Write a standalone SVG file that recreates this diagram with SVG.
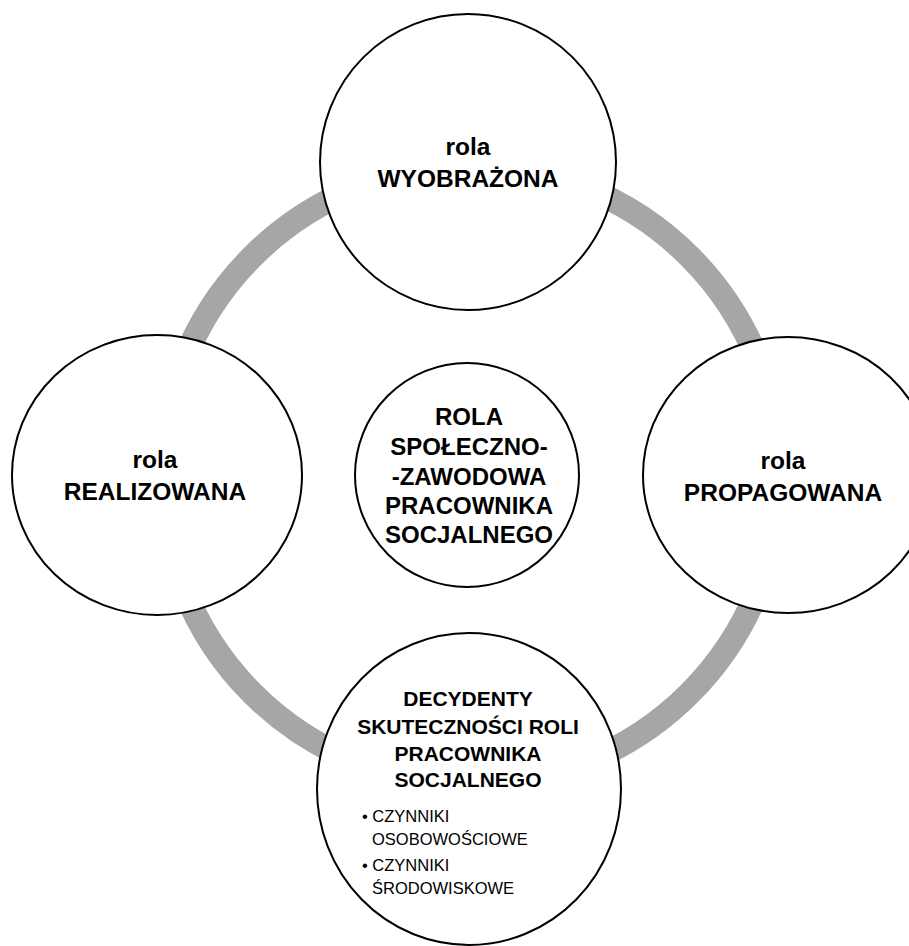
<svg xmlns="http://www.w3.org/2000/svg" width="909" height="946" viewBox="0 0 909 946">
<style>
.node{fill:#fff;stroke:#000;stroke-width:2}
.t{font-family:"Liberation Sans",Arial,sans-serif;font-weight:bold;fill:#000;text-anchor:middle}
.o{font-size:24.5px}
.c{font-size:24px}
.d{font-size:21px}
.b{font-family:"Liberation Sans",Arial,sans-serif;fill:#000;font-size:16.5px}
</style>
<rect width="909" height="946" fill="#fff"/>
<g id="connectors">
<circle cx="471" cy="475" r="309" fill="none" stroke="#A6A6A6" stroke-width="24"/>
</g>
<g id="node-top">
<circle class="node" cx="468" cy="162" r="148"/>
<text class="t o" x="468" y="155">rola</text>
<text class="t o" x="468" y="187">WYOBRAŻONA</text>
</g>
<g id="node-left">
<ellipse class="node" cx="157" cy="475" rx="145" ry="140"/>
<text class="t o" x="155" y="468">rola</text>
<text class="t o" x="155" y="500">REALIZOWANA</text>
</g>
<g id="node-right">
<ellipse class="node" cx="788" cy="475" rx="145" ry="138"/>
<text class="t o" x="783" y="469">rola</text>
<text class="t o" x="783" y="501">PROPAGOWANA</text>
</g>
<g id="node-center">
<circle class="node" cx="467" cy="475" r="112"/>
<text class="t c" x="469" y="425">ROLA</text>
<text class="t c" x="469" y="455">SPOŁECZNO-</text>
<text class="t c" x="469" y="485">-ZAWODOWA</text>
<text class="t c" x="469" y="514">PRACOWNIKA</text>
<text class="t c" x="469" y="543">SOCJALNEGO</text>
</g>
<g id="node-bottom">
<ellipse class="node" cx="469" cy="789" rx="152" ry="156"/>
<text class="t d" x="468" y="706">DECYDENTY</text>
<text class="t d" x="468" y="734">SKUTECZNOŚCI ROLI</text>
<text class="t d" x="468" y="761">PRACOWNIKA</text>
<text class="t d" x="468" y="787">SOCJALNEGO</text>
<text class="b" x="362" y="822">• CZYNNIKI</text>
<text class="b" x="372" y="845">OSOBOWOŚCIOWE</text>
<text class="b" x="362" y="871">• CZYNNIKI</text>
<text class="b" x="372" y="894">ŚRODOWISKOWE</text>
</g>
</svg>
